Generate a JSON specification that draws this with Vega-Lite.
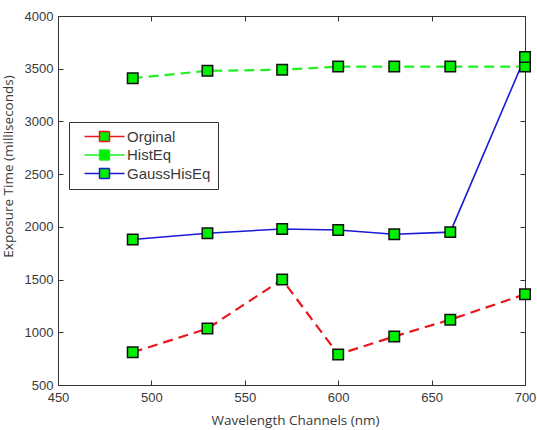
{
  "$schema": "https://vega.github.io/schema/vega-lite/v6.json",
  "autosize": {"type": "none"},
  "width": 467,
  "height": 369,
  "padding": {"left": 58, "top": 16, "right": 12, "bottom": 45},
  "background": "white",
  "config": {
    "view": {"stroke": "#333333", "strokeWidth": 1},
    "axis": {
      "domain": false,
      "grid": false,
      "tickColor": "#333333",
      "tickSize": -5,
      "labelFont": "Liberation Sans",
      "labelFontSize": 13,
      "labelColor": "#3a3a3a",
      "labelFlush": false,
      "format": "d",
      "titleFont": "Open Sans",
      "titleFontSize": 13.5,
      "titleFontWeight": "normal",
      "titleColor": "#3a3a3a"
    }
  },
  "data": {
    "values": [
      {"wl": 490, "t": 810, "series": "Orginal"},
      {"wl": 530, "t": 1035, "series": "Orginal"},
      {"wl": 570, "t": 1500, "series": "Orginal"},
      {"wl": 600, "t": 790, "series": "Orginal"},
      {"wl": 630, "t": 960, "series": "Orginal"},
      {"wl": 660, "t": 1120, "series": "Orginal"},
      {"wl": 700, "t": 1360, "series": "Orginal"},
      {"wl": 490, "t": 3410, "series": "HistEq"},
      {"wl": 530, "t": 3480, "series": "HistEq"},
      {"wl": 570, "t": 3490, "series": "HistEq"},
      {"wl": 600, "t": 3520, "series": "HistEq"},
      {"wl": 630, "t": 3520, "series": "HistEq"},
      {"wl": 660, "t": 3520, "series": "HistEq"},
      {"wl": 700, "t": 3520, "series": "HistEq"},
      {"wl": 490, "t": 1880, "series": "GaussHisEq"},
      {"wl": 530, "t": 1940, "series": "GaussHisEq"},
      {"wl": 570, "t": 1980, "series": "GaussHisEq"},
      {"wl": 600, "t": 1970, "series": "GaussHisEq"},
      {"wl": 630, "t": 1930, "series": "GaussHisEq"},
      {"wl": 660, "t": 1950, "series": "GaussHisEq"},
      {"wl": 700, "t": 3610, "series": "GaussHisEq"}
    ]
  },
  "resolve": {"axis": {"x": "independent", "y": "independent"}},
  "layer": [
    {
      "transform": [{"filter": "datum.series !== 'GaussHisEq'"}],
      "mark": {"type": "line", "strokeWidth": 2.2, "strokeDash": [10, 6]},
      "encoding": {
        "x": {
          "field": "wl", "type": "quantitative",
          "scale": {"domain": [450, 700], "nice": false, "zero": false},
          "axis": {"values": [450, 500, 550, 600, 650, 700], "title": "Wavelength Channels (nm)", "labelPadding": 11,
            "titleX": 237, "titleY": 35, "titleBaseline": "middle", "titleAlign": "center"}
        },
        "y": {
          "field": "t", "type": "quantitative",
          "scale": {"domain": [500, 4000], "nice": false, "zero": false},
          "axis": {"values": [500, 1000, 1500, 2000, 2500, 3000, 3500, 4000], "title": "Exposure Time (milliseconds)", "labelPadding": 10,
            "titleX": -50, "titleY": 150, "titleAngle": -90, "titleBaseline": "middle", "titleAlign": "center"}
        },
        "stroke": {
          "field": "series", "type": "nominal",
          "scale": {"domain": ["Orginal", "HistEq", "GaussHisEq"], "range": ["#e8171e", "#22ee22", "#1a1ad6"]},
          "legend": {
            "title": null,
            "orient": "none",
            "legendX": 11,
            "legendY": 106,
            "padding": 7,
            "symbolOffset": 21,
            "rowPadding": 1.5,
            "labelOffset": 15,
            "strokeColor": "#333333",
            "fillColor": "white",
            "cornerRadius": 0,
            "labelFont": "Liberation Sans",
            "labelFontSize": 15,
            "labelColor": "#3a3a3a",
            "symbolType": "M-4,0H-1M1,0H4M-1,-1H1V1H-1Z",
            "symbolSize": 100,
            "symbolStrokeWidth": 1.5,
            "symbolFillColor": "#00ee00",
            "symbolDash": [1, 0],
            "encode": {"symbols": {"update": {"fill": {"value": "#00ee00"}, "fillOpacity": {"value": 1}}}}
          }
        }
      }
    },
    {
      "transform": [{"filter": "datum.series === 'GaussHisEq'"}],
      "mark": {"type": "line", "strokeWidth": 1.6},
      "encoding": {
        "x": {"field": "wl", "type": "quantitative", "scale": {"domain": [450, 700], "nice": false, "zero": false}, "axis": null},
        "y": {"field": "t", "type": "quantitative", "scale": {"domain": [500, 4000], "nice": false, "zero": false}, "axis": null},
        "stroke": {"field": "series", "type": "nominal"}
      }
    },
    {
      "mark": {"type": "point", "shape": "square", "filled": true, "fill": "#00ee00", "stroke": "#111111", "strokeWidth": 1.5, "size": 110, "opacity": 1},
      "encoding": {
        "x": {"field": "wl", "type": "quantitative", "scale": {"domain": [450, 700], "nice": false, "zero": false},
          "axis": {"orient": "top", "values": [450, 500, 550, 600, 650, 700], "labels": false, "title": null}},
        "y": {"field": "t", "type": "quantitative", "scale": {"domain": [500, 4000], "nice": false, "zero": false},
          "axis": {"orient": "right", "values": [500, 1000, 1500, 2000, 2500, 3000, 3500, 4000], "labels": false, "title": null}}
      }
    }
  ]
}
